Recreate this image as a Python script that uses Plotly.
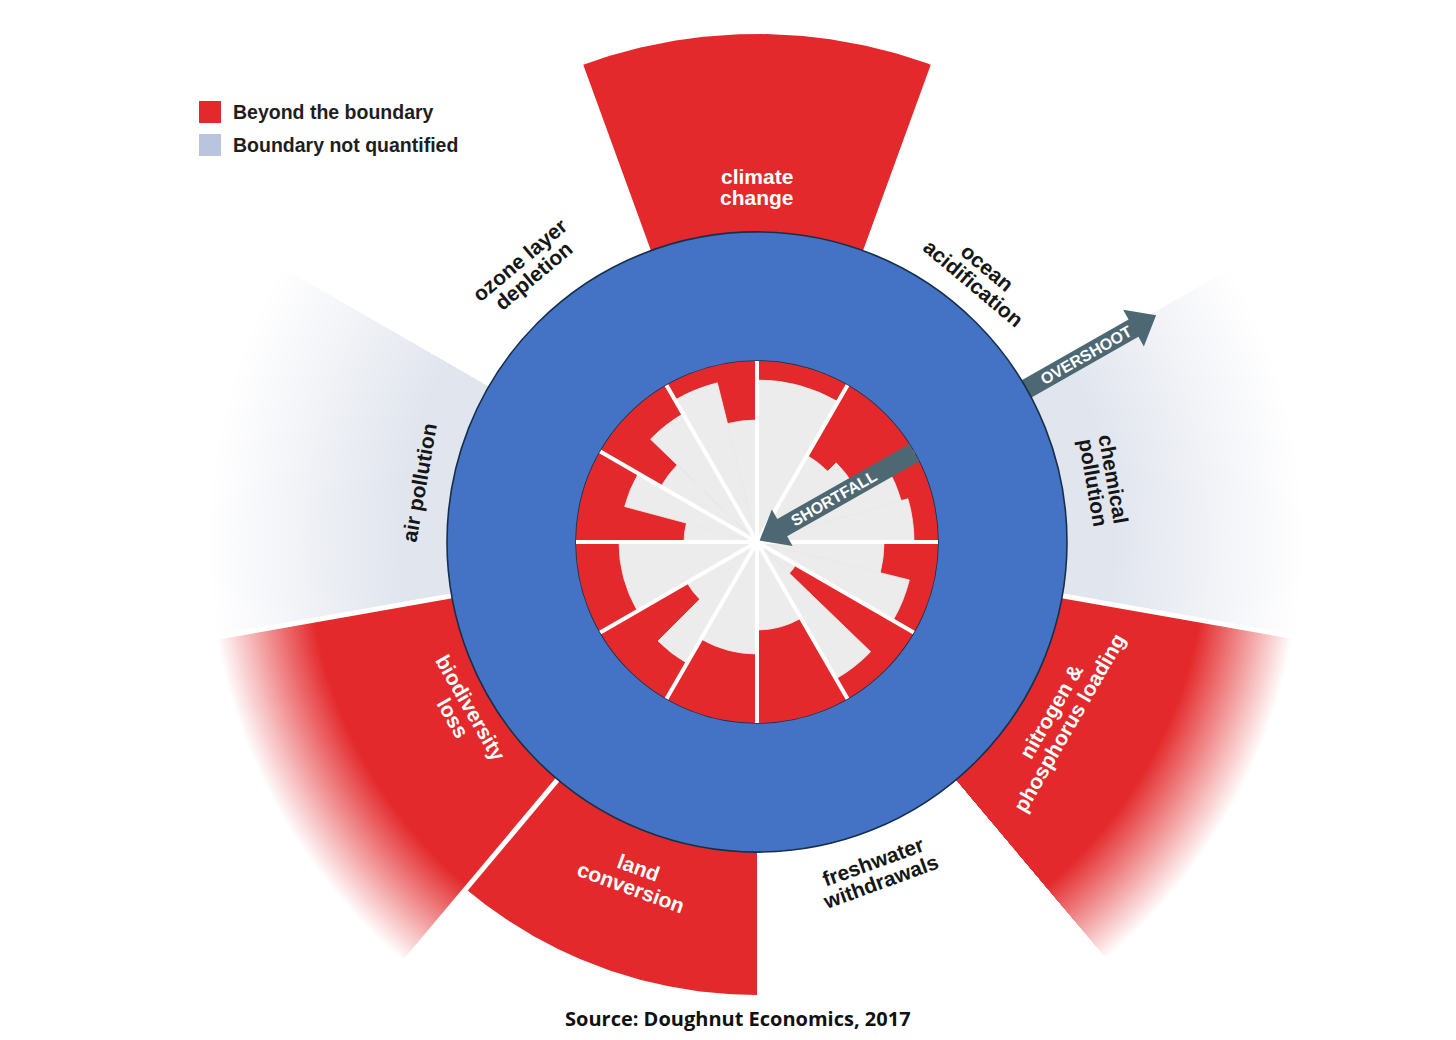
import numpy as np
import plotly.graph_objects as go

# ---------------- data ----------------
# Ecological ceiling: nine planetary boundaries (compass angle of segment centre)
boundary_lines = [["climate", "change"], ["ocean", "acidification"], ["chemical", "pollution"],
                  ["nitrogen &", "phosphorus loading"], ["freshwater", "withdrawals"],
                  ["land", "conversion"], ["biodiversity", "loss"], ["air pollution"],
                  ["ozone layer", "depletion"]]
boundary_theta = [0, 40, 80, 120, 160, 200, 240, 280, 320]
boundary_status = ["beyond", "within", "unquantified", "beyond", "within",
                   "beyond", "beyond", "unquantified", "within"]
# radial extent of the solid overshoot and of its faded tail (ceiling = 310)
boundary_solid = [508, 0, 360, 450, 0, 453, 450, 360, 0]
boundary_fade = [0, 0, 548, 545, 0, 0, 550, 550, 0]
label_r = [355, 348, 352, 350, 351, 357, 341, 343, 358]

# Social foundation: 12 dimensions split into indicators (start/end angle, achieved radius; foundation = 181)
sf_start = [0, 30, 45, 60, 74, 90, 104, 120, 134, 150, 180, 210, 225, 240, 270, 285, 300, 314, 330, 346]
sf_end = [30, 45, 60, 74, 90, 104, 120, 134, 150, 180, 210, 225, 240, 270, 285, 300, 314, 330, 346, 360]
sf_achieved = [162, 100, 112, 150, 157, 127, 157, 45, 158, 88, 112, 140, 81, 138, 73, 137, 111, 148, 164, 122]
sf_dimension_edges = list(range(0, 360, 30))

legend_labels = ["Beyond the boundary", "Boundary not quantified"]
source_text = "Source: Doughnut Economics, 2017"

# ---------------- styling / geometry ----------------
W, H = 1456, 1040
OFF = 8                      # page body margin
CX, CY = 757 - OFF, 542 - OFF
RMAX = min(CY, H - CY)
R_FOUND, R_CEIL = 181, 310
SEG_W = 40
RED = (227, 41, 43)
GREY_W = (225, 229, 238)
BLUE = "#4472C4"
INNER_GREY = "#ececec"
ARROW = "#4d6873"
FONT = "Liberation Sans, Arial, sans-serif"


def rgb(c):
    return "rgb(%d,%d,%d)" % tuple(int(round(v)) for v in c)


def polar_to_xy(r, th):
    """compass angle (deg, clockwise from north) -> cartesian (centre of doughnut = origin)"""
    r = np.asarray(r, dtype=float)
    a = np.radians(np.asarray(th, dtype=float))
    return r * np.sin(a), r * np.cos(a)


def sector_xy(th, wd, r0, r1, n=90):
    a = np.linspace(th - wd / 2, th + wd / 2, n)
    rr = np.r_[np.full(n, r1), np.full(n, r0), r1]
    tt = np.r_[a, a[::-1], a[0]]
    return polar_to_xy(rr, tt)


fig = go.Figure()

# ---- ecological overshoot wedges (cartesian layer beneath the doughnut, so nothing is clipped) ----
R_START = R_CEIL - 6
groups = {}
for th, st, solid, fade in zip(boundary_theta, boundary_status, boundary_solid, boundary_fade):
    if st == "within":
        continue
    base_col = RED if st == "beyond" else GREY_W
    steps = [(0, solid, rgb(base_col))] if fade <= 0 else []
    if fade > 0:
        n = 50
        for i in range(n, -1, -1):
            t = i / n
            steps.append((i, solid + (fade - solid) * t, rgb([b * (1 - t) + 255 * t for b in base_col])))
    for i, rend, col in steps:
        key = (st, fade > 0, i, col)
        x, y = sector_xy(th, SEG_W, R_START, rend)
        g = groups.setdefault(key, ([], []))
        g[0].extend(list(x) + [None]); g[1].extend(list(y) + [None])

for key, (xs, ys) in groups.items():
    col = key[-1]
    fig.add_trace(go.Scatter(x=xs, y=ys, mode="lines", fill="toself", fillcolor=col,
                             line=dict(width=0, color=col), hoverinfo="skip", showlegend=False))

# white separators between adjacent outer wedges
sep_x, sep_y = [], []
for i, th in enumerate(boundary_theta):
    j = (i + 1) % len(boundary_theta)
    if boundary_status[i] != "within" and boundary_status[j] != "within":
        edge = th + SEG_W / 2
        x, y = polar_to_xy([R_START, 575], [edge, edge])
        sep_x += list(x) + [None]
        sep_y += list(y) + [None]
fig.add_trace(go.Scatter(x=sep_x, y=sep_y, mode="lines", line=dict(color="white", width=5),
                         hoverinfo="skip", showlegend=False))


def arrow_local(angle, s_tail, s_tip, head_len, shaft_hw, head_hw):
    a = np.radians(angle)
    u = np.array([np.sin(a), np.cos(a)])
    nrm = np.array([np.cos(a), -np.sin(a)])
    sgn = 1 if s_tip > s_tail else -1
    s_head = s_tip - sgn * head_len
    pts = [(s_tail, -shaft_hw), (s_head, -shaft_hw), (s_head, -head_hw), (s_tip, 0),
           (s_head, head_hw), (s_head, shaft_hw), (s_tail, shaft_hw), (s_tail, -shaft_hw)]
    return np.array([s * u + w * nrm for s, w in pts])


ARROW_ANGLE = 60.4
ov = arrow_local(ARROW_ANGLE, R_CEIL - 4, 459, 26, 10, 21)
fig.add_trace(go.Scatter(x=ov[:, 0], y=ov[:, 1], mode="lines", fill="toself", fillcolor=ARROW,
                         line=dict(width=0, color=ARROW), hoverinfo="skip", showlegend=False))

# ---- the doughnut (polar subplot drawn above) ----
fig.add_trace(go.Barpolar(theta=[0], r=[R_CEIL - R_FOUND], base=[R_FOUND], width=[360],
                          marker=dict(color=BLUE, line=dict(color="#17304a", width=1.6)),
                          hoverinfo="skip", showlegend=False))
fig.add_trace(go.Barpolar(theta=[180], r=[R_FOUND], base=[0], width=[360],
                          marker=dict(color=rgb(RED), line=dict(width=0)),
                          hoverinfo="skip", showlegend=False))
sf_theta = [(a + b) / 2 for a, b in zip(sf_start, sf_end)]
sf_width = [b - a for a, b in zip(sf_start, sf_end)]
fig.add_trace(go.Barpolar(theta=sf_theta, r=sf_achieved, base=[0] * len(sf_achieved), width=sf_width,
                          marker=dict(color=INNER_GREY, line=dict(color=INNER_GREY, width=0.8)),
                          hoverinfo="skip", showlegend=False))

in_r, in_t = [], []
for e in sf_dimension_edges:
    in_r += [0, R_FOUND, None]
    in_t += [e, e, None]
fig.add_trace(go.Scatterpolar(r=in_r, theta=in_t, mode="lines", line=dict(color="white", width=4),
                              hoverinfo="skip", showlegend=False))

sh = arrow_local(ARROW_ANGLE, R_FOUND, 3, 26, 10, 21)
sh_r = np.hypot(sh[:, 0], sh[:, 1])
sh_t = np.degrees(np.arctan2(sh[:, 0], sh[:, 1]))
fig.add_trace(go.Scatterpolar(r=sh_r, theta=sh_t, mode="lines", fill="toself", fillcolor=ARROW,
                              line=dict(width=0, color=ARROW), hoverinfo="skip", showlegend=False))

# ---------------- annotations ----------------
annotations = []


def to_paper(r, th):
    px = CX + r * np.sin(np.radians(th))
    py = CY - r * np.cos(np.radians(th))
    return px / W, 1 - py / H


def page_x(px):
    return (px - OFF) / W


def page_y(py):
    return 1 - (py - OFF) / H


LINE_GAP = 21
for lines, th, st, lr in zip(boundary_lines, boundary_theta, boundary_status, label_r):
    upper = th <= 90 or th >= 270
    ang = (th if th <= 90 else th - 360) if upper else th - 180
    color = "white" if st == "beyond" else "#161616"
    k = len(lines)
    for idx, txt in enumerate(lines):
        off = ((k - 1) / 2 - idx) * LINE_GAP
        rr = lr + off if upper else lr - off
        x, y = to_paper(rr, th)
        annotations.append(dict(x=x, y=y, xref="paper", yref="paper", text="<b>%s</b>" % txt,
                                showarrow=False, textangle=ang, xanchor="center", yanchor="middle",
                                font=dict(family=FONT, size=21, color=color)))

for txt, s in [("OVERSHOOT", 378), ("SHORTFALL", 88)]:
    x, y = to_paper(s, ARROW_ANGLE)
    annotations.append(dict(x=x, y=y, xref="paper", yref="paper", text="<b>%s</b>" % txt,
                            showarrow=False, textangle=ARROW_ANGLE - 90, xanchor="center",
                            yanchor="middle", font=dict(family=FONT, size=16, color="white")))

# legend
legend_colors = [rgb(RED), "#b9c5de"]
shapes = []
for i, (lab, col) in enumerate(zip(legend_labels, legend_colors)):
    yc = 112 + i * 33
    shapes.append(dict(type="rect", xref="paper", yref="paper", x0=page_x(199), x1=page_x(221),
                       y0=page_y(yc + 11), y1=page_y(yc - 11), fillcolor=col, line=dict(width=0)))
    annotations.append(dict(x=page_x(231), y=page_y(yc), xref="paper", yref="paper", text="<b>%s</b>" % lab,
                            showarrow=False, xanchor="left", yanchor="middle",
                            font=dict(family=FONT, size=19.5, color="#1e1e1e")))

annotations.append(dict(x=page_x(738), y=page_y(1018), xref="paper", yref="paper",
                        text="<b>%s</b>" % source_text, showarrow=False, xanchor="center", yanchor="middle",
                        font=dict(family="Open Sans, sans-serif", size=20, color="#111111")))

fig.update_layout(
    width=W, height=H, margin=dict(l=0, r=0, t=0, b=0),
    paper_bgcolor="white", plot_bgcolor="white",
    xaxis=dict(range=[-CX, W - CX], domain=[0, 1], visible=False, showgrid=False, zeroline=False,
               fixedrange=True),
    yaxis=dict(range=[-(H - CY), CY], domain=[0, 1], visible=False, showgrid=False, zeroline=False,
               fixedrange=True),
    polar=dict(
        domain=dict(x=[(CX - RMAX) / W, (CX + RMAX) / W], y=[(H - CY - RMAX) / H, (H - CY + RMAX) / H]),
        bgcolor="rgba(0,0,0,0)", barmode="overlay", bargap=0, hole=0,
        radialaxis=dict(range=[0, RMAX], visible=False, showgrid=False),
        angularaxis=dict(rotation=90, direction="clockwise", visible=False, showgrid=False),
    ),
    annotations=annotations, shapes=shapes, showlegend=False,
)

fig.write_html("out.html")
